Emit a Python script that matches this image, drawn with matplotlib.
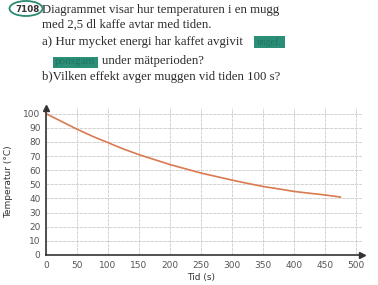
import matplotlib.pyplot as plt
from matplotlib.patches import Ellipse, Rectangle

# values
tid = [0, 25, 50, 75, 100, 125, 150, 175, 200, 225, 250, 275, 300, 325, 350, 375, 400, 425, 450, 475]
temp = [100, 94.5, 89, 84, 79.5, 75, 71, 67.5, 64, 61, 58, 55.5, 53, 50.7, 48.5, 46.8, 45, 43.7, 42.5, 41]
xticks = list(range(0, 501, 50))
yticks = list(range(0, 101, 10))

fig = plt.figure(figsize=(3.78, 2.85), dpi=100)
fig.patch.set_facecolor('white')

W, H = 378, 285
def fx(px):
    return px / W
def fy(py):
    return 1 - py / H

# task text at the top
serif = 'Liberation Serif'
ink = '#2a2a2a'
fs = 9.2
fig.text(fx(15), fy(9), '7108', fontsize=6.3, fontweight='bold', family='DejaVu Sans',
         color='#333333', va='center', ha='left')
fig.patches.append(Ellipse((fx(26), fy(8.5)), 33 / W, 15 / H, transform=fig.transFigure,
                           fill=False, edgecolor='#2a8a72', linewidth=1.3))
fig.text(fx(42), fy(10), 'Diagrammet visar hur temperaturen i en mugg', family=serif,
         fontsize=fs, color=ink, va='center')
fig.text(fx(42), fy(25), 'med 2,5 dl kaffe avtar med tiden.', family=serif,
         fontsize=fs, color=ink, va='center')
fig.text(fx(42), fy(42), 'a) Hur mycket energi har kaffet avgivit', family=serif,
         fontsize=9.3, color=ink, va='center')
fig.patches.append(Rectangle((fx(254), fy(48)), 31 / W, 12 / H, transform=fig.transFigure,
                             facecolor='#2b8f77', edgecolor='none'))
fig.patches.append(Rectangle((fx(53), fy(68)), 45 / W, 11 / H, transform=fig.transFigure,
                             facecolor='#2b8f77', edgecolor='none'))
fig.text(fx(257), fy(42), 'ungef.', family=serif, fontsize=7, color='#1f7361', va='center')
fig.text(fx(55), fy(62), 'ponsgam', family=serif, fontsize=8, color='#1f7361', va='center')
fig.text(fx(102), fy(61), 'under mätperioden?', family=serif,
         fontsize=fs, color=ink, va='center')
fig.text(fx(42), fy(77), 'b)Vilken effekt avger muggen vid tiden 100 s?', family=serif,
         fontsize=fs, color=ink, va='center')

# chart
ax = fig.add_axes([fx(46), fy(255), fx(362) - fx(46), fy(108) - fy(255)])
ax.plot(tid, temp, color='#d97a50', linewidth=1.2)
ax.set_xlim(0, 510)
ax.set_ylim(0, 104)
ax.set_xticks(xticks)
ax.set_yticks(yticks)
ax.grid(True, color='#cccccc', linewidth=0.6, linestyle=(0, (4, 1)))
ax.set_axisbelow(True)
for s in ['top', 'right']:
    ax.spines[s].set_visible(False)
for s in ['left', 'bottom']:
    ax.spines[s].set_color('#333333')
    ax.spines[s].set_linewidth(1.2)
ax.tick_params(length=0, labelsize=6.5, labelcolor='#555555', pad=4)
ax.plot(1, 0, '>', color='#333333', markersize=4, transform=ax.transAxes, clip_on=False)
ax.plot(0, 1, '^', color='#333333', markersize=4, transform=ax.transAxes, clip_on=False)
ax.set_xlabel('Tid (s)', fontsize=6.5, color='#333333')
ax.xaxis.set_label_coords(0.49, -0.12)
ax.set_ylabel('Temperatur (°C)', fontsize=6.5, color='#333333')
ax.yaxis.set_label_coords(-0.105, 0.5)

fig.savefig('out.png', dpi=100)
